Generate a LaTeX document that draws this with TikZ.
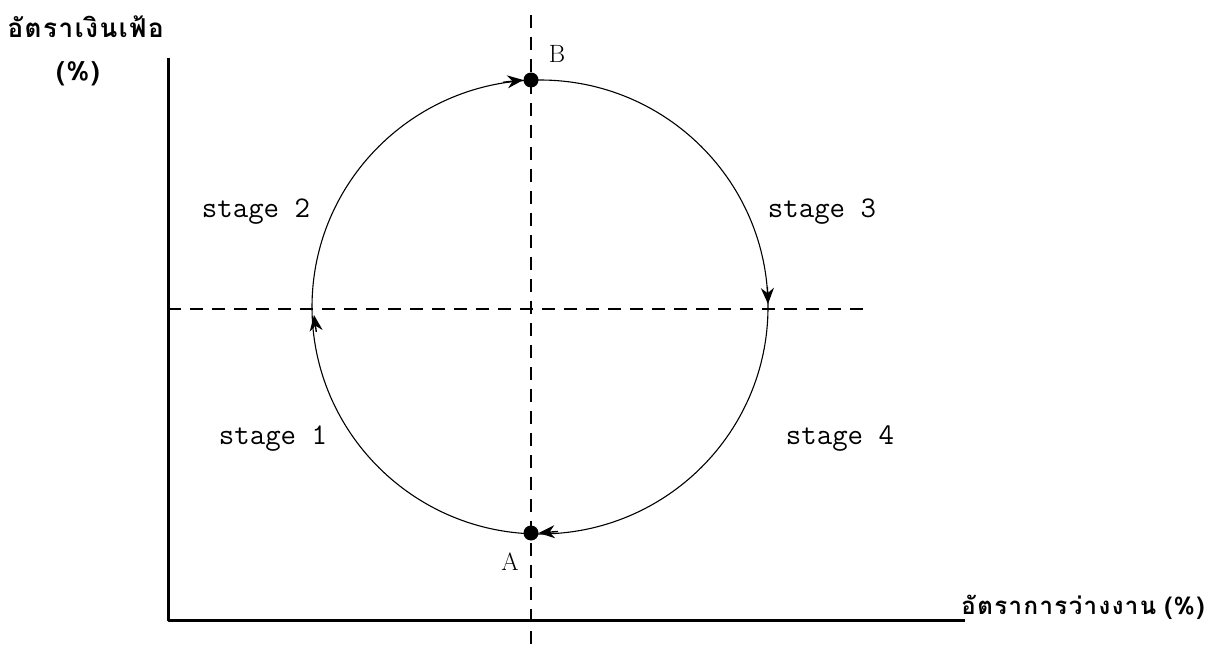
\documentclass[tikz,border=0pt]{standalone}
\usepackage{fontspec}
\newfontfamily\thaifont[Script=Thai,LetterSpace=6]{Loma}
\usetikzlibrary{arrows.meta}
\begin{document}
\begin{tikzpicture}[x=1pt,y=-1pt,
  axis/.style={line width=3pt,line join=round},
  guide/.style={line width=2.8pt,dash pattern=on 13pt off 9pt},
  circ/.style={line width=1.1pt},
  dot/.style={circle,fill=black,inner sep=0pt,minimum size=15pt},
  tipline/.style={line width=1.4pt,-{Stealth[length=16pt,width=13pt]}},
  stagelbl/.style={font=\ttfamily\fontsize{30}{32}\selectfont},
  ptlbl/.style={font=\rmfamily\fontsize{25}{28}\selectfont},
  thailbl/.style={font=\thaifont\bfseries\fontsize{26}{30}\selectfont},
  thaixlbl/.style={font=\thaifont\bfseries\fontsize{24}{28}\selectfont}]
\useasboundingbox (0,0) rectangle (1219,655);
% axes
\coordinate (Ytop) at (168,58);
\coordinate (O) at (168,620);
\coordinate (Xend) at (965,620);
\draw[axis] (Ytop) -- (O) -- (Xend);
% guide lines
\coordinate (Vt) at (531,15);
\coordinate (Vb) at (531,645);
\coordinate (Hl) at (168,309);
\coordinate (Hr) at (868,309);
\draw[guide] (Vt) -- (Vb);
\draw[guide] (Hl) -- (Hr);
% cycle
\draw[circ] (540,307) ellipse [x radius=228, y radius=227];
\node[dot] (B) at (531,80) {};
\node[dot] (A) at (531,533) {};
% arrow tips on the cycle
\coordinate (b0) at (503,82.3);
\coordinate (r0) at (767.4,287);
\coordinate (r1) at (768,304);
\coordinate (a0) at (558,531.5);
\coordinate (l0) at (316.3,332);
\coordinate (l1) at (314,315);
\draw[tipline] (b0) -- (B.west);
\draw[tipline] (r0) -- (r1);
\draw[tipline] (a0) -- (A.east);
\draw[tipline] (l0) -- (l1);
% labels
\node[ptlbl] (Blbl) at (557,54) {B};
\node[ptlbl] (Albl) at (510,562) {A};
\node[stagelbl] (s2) at (256,212) {stage 2};
\node[stagelbl] (s3) at (822,212) {stage 3};
\node[stagelbl] (s1) at (273,439) {stage 1};
\node[stagelbl] (s4) at (840,439) {stage 4};
\node[thailbl,anchor=west] (ylbl) at (4,27) {อัตราเงินเฟ้อ};
\node[thailbl] (ypc) at (78,74) {(\%)};
\node[thaixlbl,anchor=east] (xlbl) at (1208,607) {อัตราการว่างงาน\hspace{8pt}(\%)};
\end{tikzpicture}
\end{document}
